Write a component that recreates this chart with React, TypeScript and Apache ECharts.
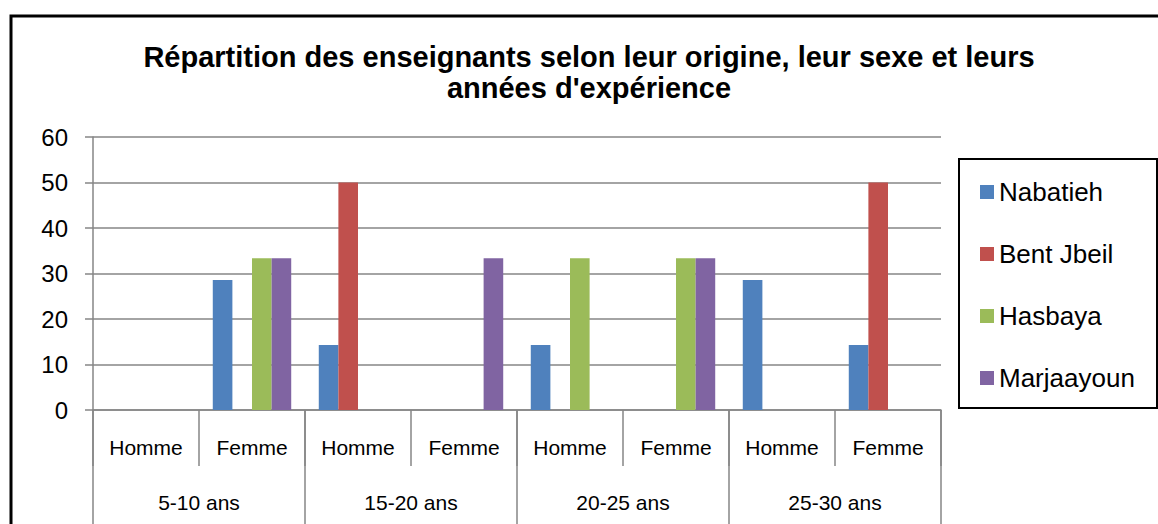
import React, { useEffect, useRef } from "react";
import * as echarts from "echarts";

const categories = ["Homme", "Femme", "Homme", "Femme", "Homme", "Femme", "Homme", "Femme"];
const groups = ["5-10 ans", "15-20 ans", "20-25 ans", "25-30 ans"];
const yTicks = { min: 0, max: 60, interval: 10 };
const nabatieh = [0, 28.57, 14.29, 0, 14.29, 0, 28.57, 14.29];
const bentJbeil = [0, 0, 50, 0, 0, 0, 0, 50];
const hasbaya = [0, 33.33, 0, 0, 33.33, 33.33, 0, 0];
const marjaayoun = [0, 33.33, 0, 33.33, 0, 33.33, 0, 0];
const seriesNames = ["Nabatieh", "Bent Jbeil", "Hasbaya", "Marjaayoun"];
const colors = ["#4F81BD", "#C0504D", "#9BBB59", "#8064A2"];

const FONT = "'Liberation Sans', Arial, sans-serif";
const AXIS = "#868686";

export default function App() {
  const ref = useRef<HTMLDivElement>(null);
  useEffect(() => {
    document.body.style.margin = "0";
    const chart = echarts.init(ref.current!, null, { renderer: "svg" });
    const values = [nabatieh, bentJbeil, hasbaya, marjaayoun];
    chart.setOption({
      animation: false,
      backgroundColor: "#fff",
      textStyle: { fontFamily: FONT },
      title: {
        text: "Répartition des enseignants selon leur origine, leur sexe et leurs\nannées d'expérience",
        left: 589,
        top: 41,
        textAlign: "center",
        padding: 0,
        textStyle: { fontFamily: FONT, fontSize: 29, fontWeight: "bold", color: "#000", lineHeight: 31 },
      },
      grid: { left: 93, right: 217, top: 137, bottom: 114, containLabel: false },
      legend: {
        orient: "vertical",
        left: 980,
        top: 179,
        itemWidth: 14,
        itemHeight: 14,
        itemGap: 36,
        icon: "rect",
        padding: 0,
        textStyle: { fontFamily: FONT, fontSize: 26, color: "#000", lineHeight: 26 },
        data: seriesNames,
      },
      xAxis: [
        {
          type: "category",
          data: categories,
          position: "bottom",
          axisLine: { show: true, lineStyle: { color: AXIS, width: 1.5 } },
          axisTick: { show: true, length: 56, lineStyle: { color: AXIS, width: 1.5 } },
          axisLabel: { interval: 0, margin: 27, fontFamily: FONT, fontSize: 21, color: "#000" },
        },
        {
          type: "category",
          data: groups,
          position: "bottom",
          offset: 0,
          axisLine: { show: false },
          axisTick: { show: true, length: 120, lineStyle: { color: AXIS, width: 1.5 } },
          axisLabel: { interval: 0, margin: 82, fontFamily: FONT, fontSize: 21, color: "#000" },
        },
      ],
      yAxis: {
        type: "value",
        min: yTicks.min,
        max: yTicks.max,
        interval: yTicks.interval,
        axisLine: { show: true, lineStyle: { color: AXIS, width: 1.5 } },
        axisTick: { show: true, length: 8, lineStyle: { color: AXIS, width: 1.5 } },
        splitLine: { show: true, lineStyle: { color: AXIS, width: 1.5 } },
        axisLabel: { margin: 25, fontFamily: FONT, fontSize: 24, color: "#000" },
      },
      series: seriesNames.map((name, i) => ({
        name,
        type: "bar",
        xAxisIndex: 0,
        data: values[i],
        barGap: "0%",
        barCategoryGap: "26%",
        itemStyle: { color: colors[i] },
      })),
      graphic: [
        {
          type: "rect",
          shape: { x: 11, y: 16, width: 1200, height: 600 },
          style: { fill: "none", stroke: "#000", lineWidth: 3 },
          silent: true,
        },
        {
          type: "rect",
          shape: { x: 959, y: 159, width: 198, height: 249 },
          style: { fill: "none", stroke: "#000", lineWidth: 2 },
          silent: true,
        },
      ],
    });
    return () => chart.dispose();
  }, []);
  return <div ref={ref} style={{ width: 1158, height: 524 }} />;
}
